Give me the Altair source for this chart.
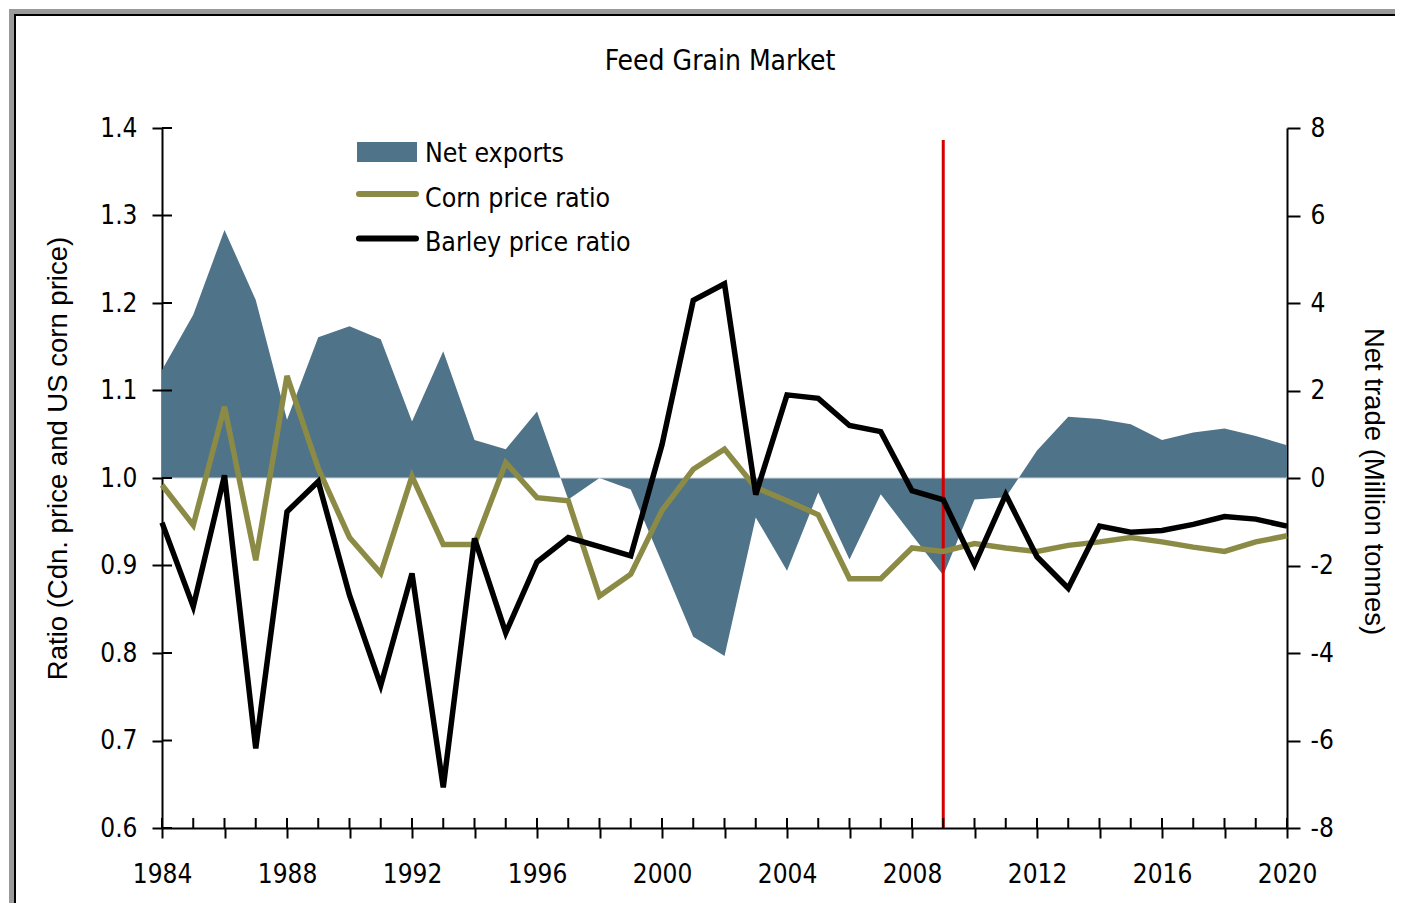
import altair as alt
import pandas as pd

# ---------------- data ----------------
years = list(range(1984, 2021))
net_exports = [2.47, 3.73, 5.67, 4.07, 1.33, 3.22, 3.47, 3.17, 1.29, 2.90,
               0.87, 0.66, 1.52, -0.49, 0.0, -0.26, -1.93, -3.63, -4.07, -0.90,
               -2.12, -0.33, -1.86, -0.37, -1.30, -2.22, -0.49, -0.44, 0.63, 1.40,
               1.35, 1.23, 0.87, 1.04, 1.13, 0.96, 0.75]
corn_ratio = [0.992, 0.946, 1.0815, 0.906, 1.1166, 1.011, 0.932, 0.891, 1.002, 0.924,
              0.924, 1.0175, 0.9775, 0.974, 0.865, 0.890, 0.963, 1.010, 1.033, 0.989,
              0.974, 0.958, 0.885, 0.885, 0.920, 0.916, 0.925, 0.920, 0.916, 0.923,
              0.927, 0.932, 0.927, 0.921, 0.916, 0.927, 0.934]
barley_ratio = [0.949, 0.853, 1.003, 0.691, 0.9615, 0.996, 0.866, 0.763, 0.891, 0.6465,
                0.931, 0.823, 0.904, 0.932, 0.9215, 0.911, 1.038, 1.203, 1.222, 0.981,
                1.095, 1.091, 1.060, 1.053, 0.9855, 0.975, 0.901, 0.981, 0.910, 0.874,
                0.945, 0.938, 0.940, 0.947, 0.956, 0.953, 0.945]
left_ticks = [0.6, 0.7, 0.8, 0.9, 1.0, 1.1, 1.2, 1.3, 1.4]
right_ticks = [-8, -6, -4, -2, 0, 2, 4, 6, 8]
event_year = [2009]
legend_labels = ["Net exports", "Corn price ratio", "Barley price ratio"]
chart_title = "Feed Grain Market"
left_title = "Ratio (Cdn. price and US corn price)"
right_title = "Net trade (Million tonnes)"

# ---------------- styles ----------------
BLUE = "#4f7389"
OLIVE = "#8c8b46"
RED = "#d40000"
NARROW = "Liberation Sans Narrow, Arial Narrow, DejaVu Sans Condensed, sans-serif"
REG = "Liberation Sans, Arial, sans-serif"
W, H = 1125, 700
TICK_FS = 26

df = pd.DataFrame({"year": years, "net": net_exports,
                   "corn": corn_ratio, "barley": barley_ratio})
one = pd.DataFrame({"k": [0]})

x_scale = alt.Scale(domain=[1984, 2020], nice=False, zero=False)
left_scale = alt.Scale(domain=[0.6, 1.4], nice=False, zero=False)
right_scale = alt.Scale(domain=[-8, 8], nice=False, zero=False)

x_axis = alt.Axis(values=years, title=None, grid=False,
                  labelExpr="datum.value % 4 == 0 ? '' + datum.value : ''",
                  labelOverlap=False, labelFlush=False,
                  labelFont=NARROW, labelFontSize=TICK_FS, labelColor="black",
                  labelPadding=23, tickSize=10, tickWidth=2, tickColor="black",
                  domainColor="black", domainWidth=2)

left_axis = alt.Axis(orient="left", values=left_ticks, format=".1f", grid=False,
                     labelFont=NARROW, labelFontSize=TICK_FS, labelColor="black",
                     labelPadding=15, tickSize=10, tickWidth=2, tickColor="black",
                     domainColor="black", domainWidth=2,
                     title=left_title, titleFont=REG, titleFontSize=27.5,
                     titleFontWeight="normal", titleColor="black",
                     titleAngle=270, titleX=-104, titleY=330,
                     titleAlign="center", titleBaseline="middle")

right_axis = alt.Axis(orient="right", values=right_ticks, grid=False,
                      labelExpr="'' + datum.value",
                      labelFont=NARROW, labelFontSize=TICK_FS, labelColor="black",
                      labelPadding=10, tickSize=13, tickWidth=2, tickColor="black",
                      domainColor="black", domainWidth=2,
                      title=right_title, titleFont=REG, titleFontSize=27.5,
                      titleFontWeight="normal", titleColor="black",
                      titleAngle=90, titleX=85, titleY=353,
                      titleAlign="center", titleBaseline="middle")

X = alt.X("year:Q", scale=x_scale, axis=x_axis)

# frame (grey band + black line) around the slide box
frame = [
    alt.Chart(one).mark_rect(color="#9a9a9a").encode(
        x=alt.value(-153), x2=alt.value(-148), y=alt.value(-119), y2=alt.value(780)),
    alt.Chart(one).mark_rect(color="#9a9a9a").encode(
        x=alt.value(-153), x2=alt.value(1240), y=alt.value(-119), y2=alt.value(-114)),
    alt.Chart(one).mark_rect(color="black").encode(
        x=alt.value(-148), x2=alt.value(-146), y=alt.value(-114), y2=alt.value(780)),
    alt.Chart(one).mark_rect(color="black").encode(
        x=alt.value(-148), x2=alt.value(1240), y=alt.value(-114), y2=alt.value(-112)),
]

area = alt.Chart(df).mark_area(color=BLUE, opacity=1, interpolate="linear").encode(
    x=X,
    y=alt.Y("net:Q", scale=right_scale, axis=right_axis),
    y2=alt.datum(0),
)

zero_line = alt.Chart(one).mark_rule(color="#c9d6de", strokeWidth=1).encode(
    x=alt.datum(1984), x2=alt.datum(2020),
    y=alt.YDatum(0, scale=right_scale, axis=None),
)

red = alt.Chart(pd.DataFrame({"ev": event_year})).mark_rule(color=RED, strokeWidth=3).encode(
    x=alt.X("ev:Q", scale=x_scale, axis=x_axis),
    y=alt.value(12), y2=alt.value(H),
)

corn = alt.Chart(df).mark_line(color=OLIVE, strokeWidth=5.5, strokeJoin="miter").encode(
    x=X, y=alt.Y("corn:Q", scale=left_scale, axis=left_axis))

barley = alt.Chart(df).mark_line(color="black", strokeWidth=5.5, strokeJoin="miter").encode(
    x=X, y=alt.Y("barley:Q", scale=left_scale, axis=None))

# inner halves of the crossing tick marks
left_in = alt.Chart(pd.DataFrame({"v": left_ticks})).mark_rule(color="black", strokeWidth=2).encode(
    y=alt.Y("v:Q", scale=left_scale, axis=None), x=alt.value(0), x2=alt.value(10))
bottom_in = alt.Chart(pd.DataFrame({"yr": years})).mark_rule(color="black", strokeWidth=2).encode(
    x=alt.X("yr:Q", scale=x_scale, axis=x_axis), y=alt.value(H - 10), y2=alt.value(H))

# legend
leg_rect = alt.Chart(one).mark_rect(color=BLUE).encode(
    x=alt.value(195), x2=alt.value(255), y=alt.value(14), y2=alt.value(34))
leg_corn = alt.Chart(one).mark_rule(color=OLIVE, strokeWidth=6, strokeCap="round").encode(
    x=alt.value(197), x2=alt.value(254), y=alt.value(66))
leg_barley = alt.Chart(one).mark_rule(color="black", strokeWidth=6, strokeCap="round").encode(
    x=alt.value(197), x2=alt.value(254), y=alt.value(110.5))
leg_df = pd.DataFrame({"label": legend_labels, "i": [0, 1, 2]})
leg_text = alt.Chart(leg_df).mark_text(
    font=NARROW, fontSize=26.5, color="black", align="left", baseline="alphabetic"
).encode(
    x=alt.value(263),
    y=alt.Y("i:Q", scale=alt.Scale(domain=[0, 2], range=[34, 123]), axis=None),
    text="label:N",
)

title = alt.Chart(pd.DataFrame({"t": [chart_title]})).mark_text(
    font=NARROW, fontSize=28, color="black", align="center", baseline="alphabetic"
).encode(x=alt.value(558), y=alt.value(-58), text="t:N")

chart = alt.layer(
    *frame, area, zero_line, red, corn, barley, left_in, bottom_in,
    leg_rect, leg_corn, leg_barley, leg_text, title,
).resolve_scale(y="independent").properties(
    width=W, height=H,
    padding={"left": 154, "top": 120, "right": 108, "bottom": 75},
    autosize=alt.AutoSizeParams(type="none"),
    background="white",
).configure_view(stroke=None)

chart.save("out.html", embed_options={"renderer": "svg", "actions": False})
